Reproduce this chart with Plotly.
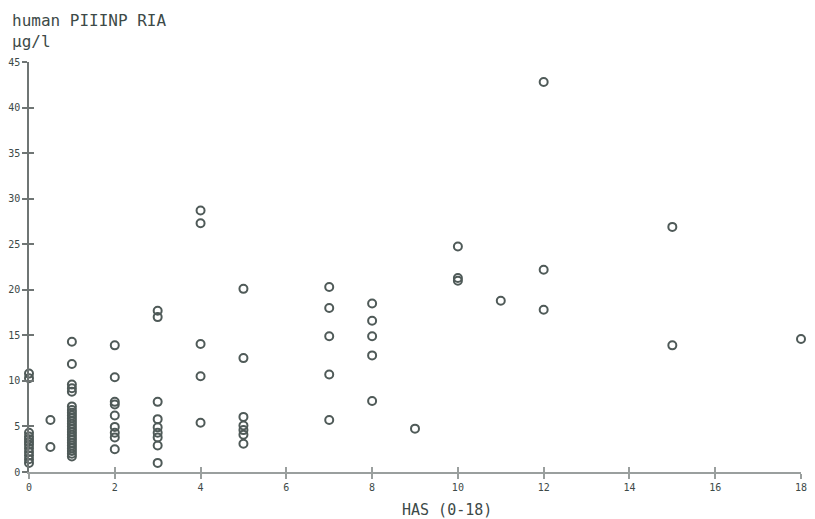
import plotly.graph_objects as go

# HAS score groups and the PIIINP concentrations measured in each
has_0 = [1.0, 1.4, 1.8, 2.2, 2.6, 3.0, 3.3, 3.6, 3.9, 4.3, 10.3, 10.8]
has_05 = [2.75, 5.7]
has_1 = [1.7, 2.0, 2.3, 2.6, 2.9, 3.2, 3.5, 3.8, 4.1, 4.4, 4.7, 5.0, 5.3, 5.6,
         5.9, 6.2, 6.5, 6.8, 7.2, 8.8, 9.2, 9.6, 11.85, 14.3]
has_2 = [2.5, 3.8, 4.3, 4.95, 6.2, 7.4, 7.7, 10.4, 13.9]
has_3 = [1.0, 2.9, 3.8, 4.3, 4.9, 5.8, 7.7, 17.0, 17.7]
has_4 = [5.4, 10.5, 14.05, 27.3, 28.7]
has_5 = [3.1, 4.1, 4.6, 5.1, 6.05, 12.5, 20.1]
has_7 = [5.7, 10.7, 14.9, 18.0, 20.3]
has_8 = [7.8, 12.8, 14.9, 16.6, 18.5]
has_9 = [4.76]
has_10 = [21.0, 21.3, 24.75]
has_11 = [18.8]
has_12 = [17.8, 22.2, 42.8]
has_15 = [13.9, 26.9]
has_18 = [14.6]

groups = [(0, has_0), (0.5, has_05), (1, has_1), (2, has_2), (3, has_3),
          (4, has_4), (5, has_5), (7, has_7), (8, has_8), (9, has_9),
          (10, has_10), (11, has_11), (12, has_12), (15, has_15), (18, has_18)]

xs, ys = [], []
for h, vals in groups:
    xs += [h] * len(vals)
    ys += vals

x_ticks = [0, 2, 4, 6, 8, 10, 12, 14, 16, 18]
y_ticks = [0, 5, 10, 15, 20, 25, 30, 35, 40, 45]

ink = "#3d4a48"
mono = "DejaVu Sans Mono"

fig = go.Figure()
fig.add_trace(go.Scatter(
    x=xs, y=ys, mode="markers",
    marker=dict(symbol="circle-open", size=8,
                line=dict(width=2, color="#4f5a58"), color="#4f5a58"),
    cliponaxis=False, showlegend=False,
))
# second pair of axes carries the inward half of each crossing tick
fig.add_trace(go.Scatter(x=[None], y=[None], xaxis="x2", yaxis="y2",
                         showlegend=False))


def axis_style(col):
    return dict(showgrid=False, zeroline=False, showline=True,
                linecolor=col, linewidth=1.5, tickcolor=col,
                ticklen=5, tickwidth=1.5)


tickfont = dict(family=mono, size=10, color=ink)

fig.update_layout(
    width=815, height=519,
    margin=dict(l=29, r=8, t=62, b=47),
    paper_bgcolor="white", plot_bgcolor="white",
    xaxis=dict(range=[0, 18], tickvals=x_ticks, ticks="outside",
               tickfont=tickfont, **axis_style("#9a9f9e")),
    yaxis=dict(range=[0, 45], tickvals=y_ticks, ticks="outside",
               tickfont=tickfont, **axis_style("#6f7574")),
    xaxis2=dict(range=[0, 18], tickvals=x_ticks, ticks="inside",
                overlaying="x", anchor="y2", showticklabels=False,
                **axis_style("#9a9f9e")),
    yaxis2=dict(range=[0, 45], tickvals=y_ticks, ticks="inside",
                overlaying="y", anchor="x2", showticklabels=False,
                **axis_style("#6f7574")),
    annotations=[
        dict(text="human PIIINP RIA<br>µg/l", xref="paper", yref="paper",
             x=-19 / 778, y=1, xanchor="left", yanchor="bottom", yshift=9,
             align="left", showarrow=False,
             font=dict(family=mono, size=16, color=ink)),
        dict(text="HAS (0-18)", xref="paper", yref="paper",
             x=421 / 778, y=0, xanchor="center", yanchor="top", yshift=-27,
             showarrow=False,
             font=dict(family=mono, size=15, color=ink)),
    ],
)

fig.write_html("out.html")
